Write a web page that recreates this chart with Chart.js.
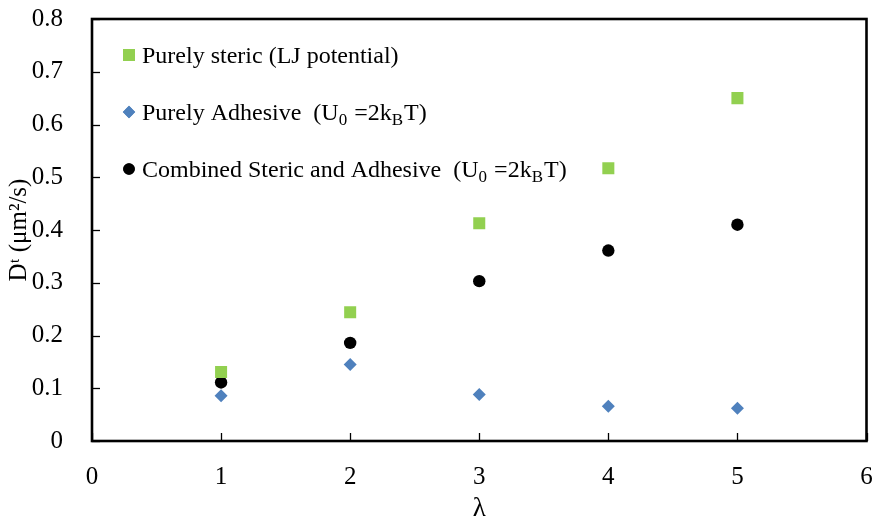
<!DOCTYPE html>
<html>
<head>
<meta charset="utf-8">
<script src="https://cdn.jsdelivr.net/npm/chart.js@4"></script>
<style>
  html, body { margin: 0; padding: 0; background: #fff; }
  #wrap { width: 875px; height: 519px; }
</style>
</head>
<body>
<div id="wrap"><canvas id="chart"></canvas></div>
<script>
// lambda values on the x axis
const lambdas = [1, 2, 3, 4, 5];

// D^t values (um^2/s)
const steric = [0.131, 0.244, 0.413, 0.517, 0.650];
const adhesive = [0.086, 0.145, 0.088, 0.066, 0.062];
const combined = [0.111, 0.186, 0.303, 0.361, 0.410];

// legend labels, _{..} is a subscript
const labelSteric = "Purely steric (LJ potential)";
const labelAdhesive = "Purely Adhesive  (U_{0} =2k_{B}T)";
const labelCombined = "Combined Steric and Adhesive  (U_{0} =2k_{B}T)";

const xTitle = "λ";
const yTitle = "Dᵗ (μm²/s)";

const SERIF = "'Liberation Serif', 'Times New Roman', serif";

const toPoints = (ys) => lambdas.map((x, i) => ({ x: x, y: ys[i] }));

// split "abc_{0}def" into parts
const splitLabel = (text) => {
  const parts = [];
  const re = /_\{([^}]*)\}/g;
  let last = 0, m;
  while ((m = re.exec(text)) !== null) {
    if (m.index > last) parts.push({ t: text.slice(last, m.index), sub: false });
    parts.push({ t: m[1], sub: true });
    last = re.lastIndex;
  }
  if (last < text.length) parts.push({ t: text.slice(last), sub: false });
  return parts;
};

// no extra room for tick labels hanging over the plot edges
const noOverhang = (scale) => {
  scale.paddingTop = 0;
  scale.paddingBottom = 0;
  scale.paddingLeft = 0;
  scale.paddingRight = 0;
};

// box around the plot plus inward tick marks
const frameTicks = {
  id: "frameTicks",
  afterDraw(chart) {
    const { ctx, chartArea: a, scales } = chart;
    ctx.save();
    ctx.strokeStyle = "#000";
    ctx.lineWidth = 1.3;
    scales.y.ticks.forEach((t) => {
      const py = Math.round(scales.y.getPixelForValue(t.value)) + 0.5;
      ctx.beginPath();
      ctx.moveTo(a.left, py);
      ctx.lineTo(a.left + 8, py);
      ctx.stroke();
    });
    scales.x.ticks.forEach((t) => {
      const px = Math.round(scales.x.getPixelForValue(t.value)) + 0.5;
      ctx.beginPath();
      ctx.moveTo(px, a.bottom);
      ctx.lineTo(px, a.bottom - 8);
      ctx.stroke();
    });
    ctx.lineWidth = 2.6;
    ctx.strokeRect(a.left, a.top, a.right - a.left, a.bottom - a.top);
    ctx.restore();
  }
};

// legend inside the plot, with subscripts
const innerLegend = {
  id: "innerLegend",
  afterDatasetsDraw(chart) {
    const { ctx, chartArea: a } = chart;
    const x0 = a.left + 37;
    const y0 = a.top + 36;
    const gap = 57;
    ctx.save();
    chart.data.datasets.forEach((ds, i) => {
      const y = y0 + i * gap;
      ctx.fillStyle = ds.backgroundColor;
      Chart.helpers.drawPoint(ctx, {
        pointStyle: ds.pointStyle,
        radius: ds.legendRadius,
        borderWidth: 0
      }, x0, y);
      ctx.fill();
      let x = x0 + 13;
      ctx.fillStyle = "#000";
      ctx.textBaseline = "alphabetic";
      splitLabel(ds.label).forEach((p) => {
        ctx.font = (p.sub ? "17px " : "24px ") + SERIF;
        ctx.fillText(p.t, x, y + (p.sub ? 13 : 8));
        x += ctx.measureText(p.t).width + (p.sub ? 1 : 0);
      });
    });
    ctx.restore();
  }
};

new Chart(document.getElementById("chart"), {
  type: "scatter",
  data: {
    datasets: [
      {
        label: labelSteric,
        data: toPoints(steric),
        pointStyle: "rect",
        pointRadius: 8.5,
        legendRadius: 8.5,
        backgroundColor: "#92d050",
        borderWidth: 0
      },
      {
        label: labelAdhesive,
        data: toPoints(adhesive),
        pointStyle: "rectRot",
        pointRadius: 6.5,
        legendRadius: 6.2,
        backgroundColor: "#4f81bd",
        borderWidth: 0
      },
      {
        label: labelCombined,
        data: toPoints(combined),
        pointStyle: "circle",
        pointRadius: 6.2,
        legendRadius: 5.8,
        backgroundColor: "#000000",
        borderWidth: 0
      }
    ]
  },
  options: {
    responsive: true,
    maintainAspectRatio: false,
    animation: false,
    layout: {
      padding: { top: 19, right: 6, left: 0, bottom: 0 }
    },
    plugins: {
      legend: { display: false },
      tooltip: { enabled: false }
    },
    scales: {
      x: {
        type: "linear",
        min: 0,
        max: 6,
        grid: { display: false },
        border: { display: false },
        ticks: {
          stepSize: 1,
          color: "#000",
          padding: 13,
          font: { family: SERIF, size: 25 }
        },
        title: {
          display: true,
          text: xTitle,
          color: "#000",
          padding: 0,
          font: { family: SERIF, size: 27, lineHeight: 0.75 }
        },
        afterFit(scale) {
          noOverhang(scale);
          scale.height = 78;
        }
      },
      y: {
        min: 0,
        max: 0.8,
        grid: { display: false },
        border: { display: false },
        ticks: {
          stepSize: 0.1,
          color: "#000",
          padding: 21,
          font: { family: SERIF, size: 25 }
        },
        title: {
          display: true,
          text: yTitle,
          color: "#000",
          padding: { top: 4, bottom: 0 },
          font: { family: SERIF, size: 25 }
        },
        afterFit(scale) {
          noOverhang(scale);
          scale.width = 92;
        }
      }
    }
  },
  plugins: [frameTicks, innerLegend]
});
</script>
</body>
</html>
